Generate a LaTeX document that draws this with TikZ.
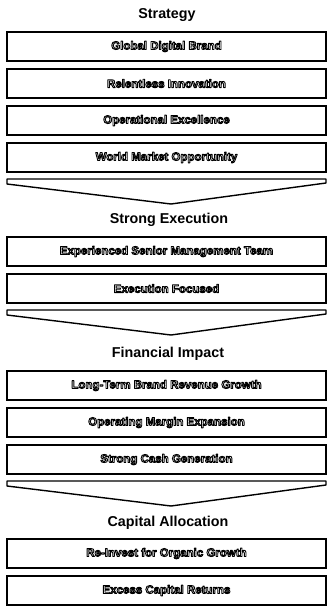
\documentclass[tikz,border=0pt]{standalone}
\usepackage{fontspec}
\setmainfont{Liberation Sans}
\usepackage{xcolor}
\newcommand{\outlined}[1]{{\color{white}\special{pdf:code 0 G 0.9 w 1 j 2 Tr}#1\special{pdf:code 0 Tr}}}
\tikzset{
  sectiontitle/.style={font=\bfseries\fontsize{14.3}{16}\selectfont},
  itembox/.style={draw, line width=1.4pt, minimum width=319pt, minimum height=29pt, inner sep=0pt, font=\bfseries\fontsize{11.5}{13}\selectfont},
  chevronshape/.style={draw, line width=1.4pt, line join=round}
}

\begin{document}
\begin{tikzpicture}[x=1pt,y=-1pt]
        \useasboundingbox (0,0) rectangle (328,606);
        \node[sectiontitle] (strategy) at (167,15) {Strategy};
        \node[itembox] (brand) at (166.5,46.5) {\outlined{Global Digital Brand}}; %1
        \node[itembox] (innovation) at (166.5,83.5) {\outlined{Relentless Innovation}}; %2
        \node[itembox] (excellence) at (166.5,120.5) {\outlined{Operational Excellence}}; %3
        \node[itembox] (market) at (166.5,157.5) {\outlined{World Market Opportunity}}; %4
        \draw[chevronshape] (7,179)--(7,184)--(171,204)--(326,183)--(326,179)--cycle;

        \node[sectiontitle] (execution) at (169,220) {Strong Execution};
        \node[itembox] (management) at (166.5,251.5) {\outlined{Experienced Senior Management Team}}; %5
        \node[itembox] (focused) at (166.5,288.5) {\outlined{Execution Focused}}; %6
        \draw[chevronshape] (7,310)--(7,315)--(171,335)--(326,314)--(326,310)--cycle;

        \node[sectiontitle] (impact) at (168,354) {Financial Impact};
        \node[itembox] (revenue) at (166.5,385.5) {\outlined{Long-Term Brand Revenue Growth}}; %7
        \node[itembox] (margin) at (166.5,422.5) {\outlined{Operating Margin Expansion}}; %8
        \node[itembox] (cash) at (166.5,459.5) {\outlined{Strong Cash Generation}}; %9
        \draw[chevronshape] (7,481)--(7,486)--(171,506)--(326,485)--(326,481)--cycle;

        \node[sectiontitle] (allocation) at (168,523) {Capital Allocation};
        \node[itembox] (reinvest) at (166.5,553.5) {\outlined{Re-Invest for Organic Growth}}; %10
        \node[itembox] (returns) at (166.5,590.5) {\outlined{Excess Capital Returns}}; %11
    \end{tikzpicture}
\end{document}
